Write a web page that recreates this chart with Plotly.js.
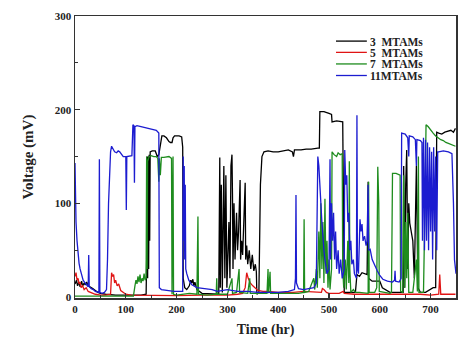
<!DOCTYPE html>
<html>
<head>
<meta charset="utf-8">
<script src="https://cdn.plot.ly/plotly-3.0.1.min.js"></script>
<style>html,body{margin:0;padding:0;background:#fff;}#chart{width:472px;height:353px;}</style>
</head>
<body>
<div id="chart"></div>
<script>
// 3 MTAMs (black)
const t3 = [0,3,5,8,10,13,15,18,20,23,26,30,35,40,45,50,60,80,100,130,140,
141,142,143,144,145,146,147,148,152,158,162,165,168,171,175,180,185,188,191,193,196,205,210,212,213,216,220,225,228,230,232,234,236,240,250,270,283,
285,286,288,290,293,295,297,299,303,305,307,309,310,311,313,315,318,320,322,325,326,328,330,332,335,336,338,340,343,346,349,352,355,357,358,362,365,368,372,380,390,400,410,420,428,430,432,445,455,465,478,481,482,490,500,505,506,515,527,528,530,540,552,555,560,565,570,575,577,578,585,600,605,620,640,646,647,649,651,653,655,657,659,662,665,668,672,675,680,690,700,705,710,712,716,722,728,735,740,745,749];
const v3 = [14,18,12,16,11,17,12,15,13,16,12,11,9,7,5,4,3,2,2,2,3,
40,150,20,150,30,152,60,155,156,156,150,152,165,172,172,170,166,165,165,170,172,172,171,160,20,10,8,12,18,15,19,12,16,8,4,3,3,
149,10,120,5,140,20,130,10,80,20,140,152,110,30,100,40,90,50,70,125,40,60,45,70,122,40,55,35,50,30,45,28,35,27,3,5,120,150,155,156,155,155,156,157,155,150,157,157,158,158,159,159,198,198,196,195,187,188,187,100,5,5,5,24,22,26,25,24,123,20,17,17,10,5,5,5,140,10,120,157,30,100,79,70,60,20,140,10,5,5,8,10,10,176,175,174,176,177,178,176,180];

// 5 MTAMs (red)
const t5 = [0,2,4,6,8,10,12,15,18,22,26,30,35,40,50,60,70,72,74,76,78,80,83,86,90,95,100,110,150,200,250,300,320,330,335,338,341,345,350,355,360,370,380,400,430,450,470,485,487,490,495,500,520,528,530,550,580,600,620,650,680,700,716,718,720,735,749];
const v5 = [22,26,18,20,14,16,10,12,8,10,6,5,4,3,2,2,3,26,22,24,15,18,12,14,7,5,3,2,1.5,1.5,2,2,3,4,10,26,20,15,12,9,7,6,6,5,5,6,5,5,9,8,5,4,4,6,4,3,3,3,3,3,3,2,3,24,3,3,3];

// 7 MTAMs (green)
const t7 = [0,50,100,115,118,120,122,124,126,128,130,132,134,136,138,140,141,142,143,144,146,150,155,160,163,165,166,168,170,175,185,190,191,193,194,200,215,225,240,242,243,260,278,279,280,300,309,310,318,323,324,340,344,345,360,378,380,381,384,385,400,440,450,451,452,460,470,472,475,477,480,482,484,486,488,490,492,494,496,498,500,502,505,506,510,515,518,522,526,527,529,532,534,537,539,540,541,543,548,552,560,577,578,579,590,594,596,598,599,610,620,623,625,632,638,640,641,645,647,649,651,653,655,657,665,672,674,676,677,686,689,691,695,700,705,710,715,720,725,730,735,740,749];
const v7 = [1,1,1,1,12,18,14,22,16,24,15,20,17,25,18,20,150,30,145,148,150,151,150,150,148,123,148,130,149,149,150,148,3,150,3,2,3,4,3,86,3,2,3,20,3,3,20,4,5,30,5,4,20,4,4,4,30,4,27,4,4,4,5,83,5,6,20,8,30,10,70,20,100,30,80,15,105,25,60,10,40,8,30,155,152,150,154,152,153,30,10,40,8,60,15,145,30,5,8,5,5,4,123,5,5,10,139,100,6,5,4,5,132,132,131,130,6,5,130,10,80,20,90,5,5,40,6,150,5,5,100,184,182,178,175,172,170,168,167,165,164,163,161];

// 11MTAMs (blue)
const t11 = [0,1,2,4,6,8,10,13,16,20,24,26,27,28,32,36,40,44,47,48,49,53,58,62,64,66,68,70,72,75,78,82,85,88,92,95,100,101,102,108,112,114,116,117,118,122,130,140,150,160,165,166,170,180,195,205,212,213,214,215,216,217,218,220,224,230,240,255,270,280,300,320,340,360,380,400,420,432,434,435,436,440,450,460,470,475,478,480,482,484,486,488,490,492,494,496,500,502,503,505,507,509,511,513,515,518,520,523,526,530,531,533,535,537,539,541,543,545,548,550,554,555,556,558,561,563,565,567,570,573,575,577,578,581,585,590,595,600,606,615,625,629,630,631,638,642,643,650,655,657,658,665,670,672,673,680,683,684,686,688,690,692,694,696,698,700,702,704,706,708,710,712,714,716,725,735,742,745,747,750];
const v11 = [143,100,80,60,45,36,30,23,18,15,13,11,45,11,9,8,6,5,5,147,5,4,5,8,40,100,140,155,161,158,155,154,156,155,152,150,150,93,150,151,151,184,183,122,182,183,182,180,179,178,175,10,8,7,6,6,6,150,60,140,40,120,30,25,18,13,10,9,8,6,8,6,6,5,5,5,6,8,20,109,15,9,8,9,10,15,150,140,110,100,80,60,50,40,30,25,30,147,40,100,60,90,40,70,30,50,25,40,20,30,157,120,130,80,90,50,60,35,40,25,20,194,30,25,83,70,78,60,65,55,60,120,50,51,40,33,28,23,19,17,16,18,28,17,16,20,175,174,170,150,172,171,168,140,168,167,165,60,170,50,168,60,165,50,160,70,155,40,160,70,150,50,155,155,156,155,153,100,40,25];

const xTicks = [0,100,200,300,400,500,600,700];
const yTicks = [0,100,200,300];
const names = ['3\u00a0\u00a0MTAMs','5\u00a0\u00a0MTAMs','7\u00a0\u00a0MTAMs','11MTAMs'];
const colors = ['#000000','#e01414','#1e8c1e','#1c1cd0'];
const series = [[t3,v3],[t5,v5],[t7,v7],[t11,v11]];

const lw = 1.3;
const traces = series.map((s,i) => ({type:'scatter', mode:'lines', hoverinfo:'skip',
  x:s[0], y:s[1], name:names[i], showlegend:false, line:{color:colors[i], width:lw}}));

const serif = '"Liberation Serif", "DejaVu Serif", serif';
const fontB = {family:serif, size:11, color:'#222', weight:700};

// custom compact legend (paper coordinates)
const legY = [0.911, 0.871, 0.830, 0.789];
const shapes = [], annotations = [];
names.forEach((n,i) => {
  shapes.push({type:'line', xref:'paper', yref:'paper', x0:0.685, x1:0.766, y0:legY[i], y1:legY[i],
    line:{color:colors[i], width:1.3}});
  annotations.push({xref:'paper', yref:'paper', x:0.772, y:legY[i], xanchor:'left', yanchor:'middle',
    text:n, showarrow:false, borderpad:0, height:11, font:{family:serif, size:11.5, color:'#222', weight:700}});
});

const axisCommon = {
  showline:true, mirror:true, linecolor:'#333', linewidth:1.5,
  ticks:'inside', ticklen:5, tickwidth:1.3, tickcolor:'#333',
  showgrid:false, zeroline:false, tickfont:fontB
};
const minorT = {ticks:'inside', ticklen:3, tickwidth:1, tickcolor:'#333', showgrid:false, dtick:50, tick0:0};
const layout = {
  width:472, height:353,
  margin:{l:75, r:16, t:16, b:55},
  paper_bgcolor:'#fff', plot_bgcolor:'#fff',
  showlegend:false,
  shapes:shapes, annotations:annotations,
  xaxis:Object.assign({}, axisCommon, {range:[0,750], tickvals:xTicks, ticktext:xTicks.map(String), minor:minorT,
    title:{text:'Time (hr)', font:{family:serif, size:14, color:'#222', weight:700}, standoff:10}}),
  yaxis:Object.assign({}, axisCommon, {range:[-1,300], tickvals:yTicks, ticktext:yTicks.map(String), minor:minorT,
    title:{text:'Voltage (mV)', font:{family:serif, size:15, color:'#222', weight:700}, standoff:17}})
};
Plotly.newPlot('chart', traces, layout, {staticPlot:true, displayModeBar:false});
</script>
</body>
</html>
